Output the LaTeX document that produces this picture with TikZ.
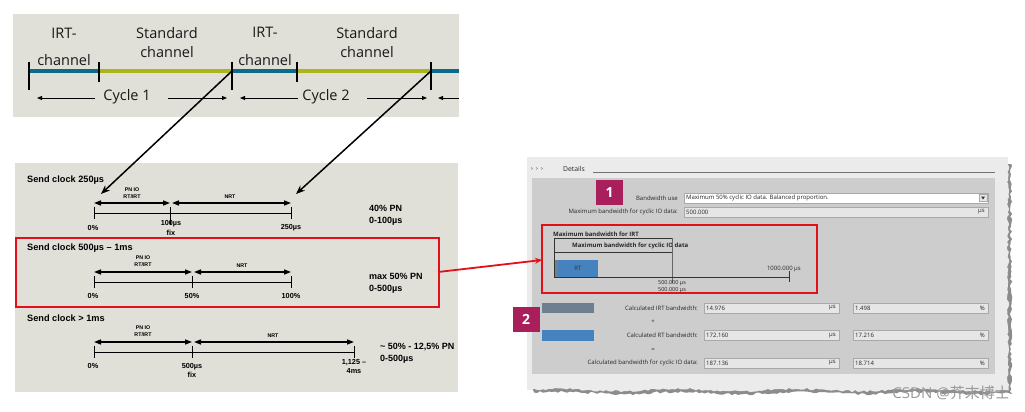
\documentclass[tikz,border=0pt]{standalone}
\usepackage{fontspec}
\setmainfont{Open Sans}
\newfontfamily\arialf{Liberation Sans}
\newfontfamily\cjkf{Noto Sans CJK SC}
\usetikzlibrary{arrows.meta}
\definecolor{panelbg}{HTML}{E0DFD8}
\definecolor{irtblue}{HTML}{0B6B8A}
\definecolor{stdgreen}{HTML}{AAB41C}
\definecolor{boxred}{HTML}{E3101B}
\definecolor{uiouter}{HTML}{EBEBEB}
\definecolor{uiinner}{HTML}{CDCDCD}
\definecolor{fieldbg}{HTML}{E6E6E6}
\definecolor{fieldline}{HTML}{A9A9A9}
\definecolor{badgec}{HTML}{A81F5C}
\definecolor{rtblue}{HTML}{4682BE}
\definecolor{irtgray}{HTML}{6E7F90}
\definecolor{shadowc}{HTML}{8C8C8C}
\tikzset{
  toptxt/.style={font=\fontsize{14.5}{15}\selectfont, inner sep=0pt, text=black!90},
  ttick/.style={line width=1.6pt},
  chan/.style={line width=3.6pt},
  cycarrow/.style={-{Triangle[length=5pt,width=4pt]}, line width=0.9pt},
  sclock/.style={font=\arialf\bfseries\fontsize{9.2}{10}\selectfont, anchor=west, inner sep=0pt},
  tinyt/.style={font=\arialf\bfseries\fontsize{5.3}{7}\selectfont, align=center, inner sep=0pt},
  lbl/.style={font=\arialf\bfseries\fontsize{7.3}{9.5}\selectfont, align=center, inner sep=0pt},
  dbl/.style={{Triangle[length=7pt,width=5pt]}-{Triangle[length=7pt,width=5pt]}, line width=1.3pt},
  tl/.style={line width=1pt},
  pn/.style={font=\arialf\bfseries\fontsize{9}{12}\selectfont, anchor=west, align=left, inner sep=0pt},
  bigarrow/.style={-{Stealth[length=9pt,width=7pt]}, line width=1.5pt},
  redarrow/.style={-{Stealth[length=7pt,width=6pt]}, line width=1.8pt, boxred},
  ui/.style={font=\fontsize{6}{7}\selectfont, inner sep=0pt, text=black!85},
  uib/.style={font=\bfseries\fontsize{6}{7}\selectfont, inner sep=0pt, text=black!85},
  fieldbox/.style={draw=fieldline, fill=fieldbg, line width=0.4pt},
  badge/.style={fill=badgec, text=white, font=\bfseries\fontsize{14}{14}\selectfont, minimum width=27pt, minimum height=25pt, inner sep=0pt}
}
\begin{document}
\begin{tikzpicture}[x=1pt,y=-1pt]
\useasboundingbox (0,0) rectangle (1025,412);
\fill[white] (0,0) rectangle (1025,412);

% ---------------- top panel ----------------
\fill[panelbg] (13,14) rectangle (459,117);
\draw[chan, irtblue] (29,71) -- (99,71);
\draw[chan, stdgreen] (99,71) -- (232,71);
\draw[chan, irtblue] (232,71) -- (297,71);
\draw[chan, stdgreen] (297,71) -- (431,71);
\draw[chan, irtblue] (431,71) -- (459,71);
\coordinate (t0) at (29,71);
\coordinate (t1) at (232,71);
\coordinate (t2) at (431,71);
\draw[ttick] (29,62) -- (29,90);
\draw[ttick] (99,62) -- (99,82);
\draw[ttick] (232,62) -- (232,90);
\draw[ttick] (297,62) -- (297,82);
\draw[ttick] (431,62) -- (431,90);
\node[toptxt] (irt1a) at (64,33) {IRT-};
\node[toptxt] (irt1b) at (64,60) {channel};
\node[toptxt] (std1a) at (167,33) {Standard};
\node[toptxt] (std1b) at (167,52) {channel};
\node[toptxt] (irt2a) at (265,32) {IRT-};
\node[toptxt] (irt2b) at (265,60) {channel};
\node[toptxt] (std2a) at (367,33) {Standard};
\node[toptxt] (std2b) at (367,52) {channel};
\node[toptxt] (cy1) at (127,97) {Cycle 1};
\node[toptxt] (cy2) at (326,97) {Cycle 2};
\coordinate (c1a) at (95,98); \coordinate (c1b) at (37,98);
\coordinate (c1c) at (168,98); \coordinate (c1d) at (227,98);
\coordinate (c2a) at (298,98); \coordinate (c2b) at (240,98);
\coordinate (c2c) at (367,98); \coordinate (c2d) at (427,98);
\coordinate (c3a) at (459,98); \coordinate (c3b) at (438,98);
\draw[cycarrow] (c1a) -- (c1b);
\draw[cycarrow] (c1c) -- (c1d);
\draw[cycarrow] (c2a) -- (c2b);
\draw[cycarrow] (c2c) -- (c2d);
\draw[cycarrow] (c3a) -- (c3b);

% ---------------- middle panel ----------------
\fill[panelbg] (15,163) rectangle (458,392);

% row 1
\node[sclock] (sc1) at (27,180) {Send clock 250µs};
\node[tinyt] (pn1) at (132,193.5) {PN IO\\RT/IRT};
\node[tinyt] (nrt1) at (230,197) {NRT};
\coordinate (r1a) at (94,203); \coordinate (r1b) at (170,203);
\coordinate (r1c) at (172,203); \coordinate (r1d) at (291,203);
\draw[dbl] (r1a) -- (r1b);
\draw[dbl] (r1c) -- (r1d);
\draw[tl] (94,213) -- (291,213);
\draw[tl] (94,207) -- (94,219);
\draw[tl] (170,207) -- (170,225);
\draw[tl] (291,207) -- (291,219);
\node[lbl] (l10) at (93,228) {0\%};
\node[lbl] (l11) at (171,228) {100µs\\fix};
\node[lbl] (l12) at (291,228) {250µs};
\node[pn] (p1) at (369,215) {40\% PN\\0-100µs};

% row 2
\draw[boxred, line width=2pt] (16,238) rectangle (439,307);
\coordinate (redbox1) at (438,272);
\node[sclock] (sc2) at (27,248) {Send clock 500µs – 1ms};
\node[tinyt] (pn2) at (143,261) {PN IO\\RT/IRT};
\node[tinyt] (nrt2) at (242,266) {NRT};
\coordinate (r2a) at (94,272); \coordinate (r2b) at (192,272);
\coordinate (r2c) at (194,272); \coordinate (r2d) at (291,272);
\draw[dbl] (r2a) -- (r2b);
\draw[dbl] (r2c) -- (r2d);
\draw[tl] (94,282) -- (291,282);
\draw[tl] (94,276) -- (94,288);
\draw[tl] (192,276) -- (192,288);
\draw[tl] (291,276) -- (291,288);
\node[lbl] (l20) at (93,296) {0\%};
\node[lbl] (l21) at (192,296) {50\%};
\node[lbl] (l22) at (291,296) {100\%};
\node[pn] (p2) at (369,283.5) {max 50\% PN\\0-500µs};

% row 3
\node[sclock] (sc3) at (27,318) {Send clock > 1ms};
\node[tinyt] (pn3) at (143,331) {PN IO\\RT/IRT};
\node[tinyt] (nrt3) at (273,336) {NRT};
\coordinate (r3a) at (94,342); \coordinate (r3b) at (192,342);
\coordinate (r3c) at (194,342); \coordinate (r3d) at (354,342);
\draw[dbl] (r3a) -- (r3b);
\draw[dbl] (r3c) -- (r3d);
\draw[tl] (94,352) -- (354,352);
\draw[tl] (94,346) -- (94,358);
\draw[tl] (192,346) -- (192,358);
\draw[tl] (354,346) -- (354,358);
\node[lbl] (l30) at (93,366) {0\%};
\node[lbl] (l31) at (192,370.5) {500µs\\fix};
\node[lbl] (l32) at (354,366.5) {1,125 –\\4ms};
\node[pn] (p3) at (380,353) {\textasciitilde{} 50\% - 12,5\% PN\\0-500µs};

% black arrows from top panel
\coordinate (tip1) at (101,194);
\coordinate (tip2) at (296,194);
\draw[bigarrow] (t1) -- (tip1);
\draw[bigarrow] (t2) -- (tip2);

% ---------------- right panel (screenshot) ----------------
\pgfmathsetseed{3}
\fill[shadowc] (1000,164)
  \foreach \i in {0,...,92} { -- ({1011+1.3*rand},{164+\i*2.5}) }
  \foreach \i in {0,...,159} { -- ({1011-\i*3},{393+1.3*rand+1.2*sin(\i*9)}) }
  -- (531,384) -- (1000,384) -- cycle;
\pgfmathsetmacro{\dummy}{0}
\pgfmathsetseed{7}
\fill[uiouter] (527,157) -- (1008,157)
  \foreach \i in {1,...,93} { -- ({1008+1.1*rand},{157+\i*2.5}) }
  \foreach \i in {0,...,160} { -- ({1008-\i*3},{390+1.1*rand+1.2*sin(\i*9)}) }
  -- (527,390) -- cycle;
\fill[uiinner] (532,178) rectangle (995,374);
\node[ui, anchor=west] (chev) at (531,169) {›\ \ ›\ \ ›};
\node[ui, anchor=west, font=\fontsize{6.8}{7}\selectfont] (det) at (563,169) {Details};
\draw[black!55, line width=0.5pt] (593,172) -- (995,172);

\node[badge] (b1) at (609.5,192.5) {1};
\node[ui, anchor=east] (bwuse) at (678,198) {Bandwidth use};
\draw[fieldline, fill=white, line width=0.4pt] (684,193) rectangle (988,203);
\node[ui, anchor=west] (bwval) at (686,198) {Maximum 50\% cyclic IO data. Balanced proportion.};
\draw[fieldline, fill=fieldbg, line width=0.3pt] (979,194.5) rectangle (987,201.5);
\fill[black!80] (981,196.5) -- (985,196.5) -- (983,199.5) -- cycle;
\node[ui, anchor=east] (maxbw) at (678,212) {Maximum bandwidth for cyclic IO data:};
\draw[fieldbox] (684,207) rectangle (988,217);
\node[ui, anchor=west] (maxbwv) at (686,212) {500.000};
\node[ui, anchor=east] (maxbwu) at (985,212) {µs};

% red box 2 with chart
\draw[boxred, line width=2pt] (542,225) rectangle (817,293);
\coordinate (redbox2) at (542,260);
\node[uib, anchor=west] (mirt) at (553,234) {Maximum bandwidth for IRT};
\node[uib, anchor=west] (mcyc) at (572,246) {Maximum bandwidth for cyclic IO data};
\fill[irtgray] (554,260) rectangle (557.5,277);
\fill[rtblue] (557.5,260) rectangle (598,277);
\node[ui, text=black!80] (rtl) at (578,268.5) {RT};
\draw[black!80, line width=0.6pt] (554,238) -- (672,238);
\draw[black!80, line width=0.6pt] (554,252) -- (672,252);
\draw[black!80, line width=0.6pt] (554,238) -- (554,277);
\draw[black!60, line width=0.6pt] (672,238) -- (672,283);
\draw[black!80, line width=0.6pt] (554,277) -- (789,277);
\draw[black!80, line width=0.8pt] (789,271) -- (789,282);
\node[ui, anchor=east] (k1000) at (801,269) {1000.000 µs};
\node[ui, font=\fontsize{5.5}{6.8}\selectfont, align=center] (k500) at (672,286.5) {500.000 µs\\500.000 µs};

% calculated rows
\node[badge] (b2) at (526,319.5) {2};
\fill[irtgray] (542,303) rectangle (594,313);
\fill[rtblue] (542,330) rectangle (594,341);
\node[ui, anchor=east] (cirt) at (698,308) {Calculated IRT bandwidth:};
\node[ui, anchor=east] (crt) at (698,335.5) {Calculated RT bandwidth:};
\node[ui, anchor=east] (ccyc) at (698,363) {Calculated bandwidth for cyclic IO data:};
\node[ui] (plus) at (653,322) {+};
\node[ui] (eq) at (653,350) {=};
\foreach \yy/\va/\vb in {308/14.976/1.498, 335.5/172.160/17.216, 363/187.136/18.714}{
  \draw[fieldbox] (704,\yy-5) rectangle (839,\yy+5);
  \draw[fieldbox] (853,\yy-5) rectangle (988,\yy+5);
  \node[ui, anchor=west] at (706,\yy) {\va};
  \node[ui, anchor=east] at (836,\yy) {µs};
  \node[ui, anchor=west] at (855,\yy) {\vb};
  \node[ui, anchor=east] at (985,\yy) {\%};
}

% red connector
\draw[redarrow] (redbox1) -- (redbox2);

% watermark
\node[anchor=east, inner sep=0pt, text=black!40, font=\fontsize{15}{16}\selectfont] (wm) at (1010,393) {CSDN @{\cjkf 芥末博士}};
\end{tikzpicture}
\end{document}
